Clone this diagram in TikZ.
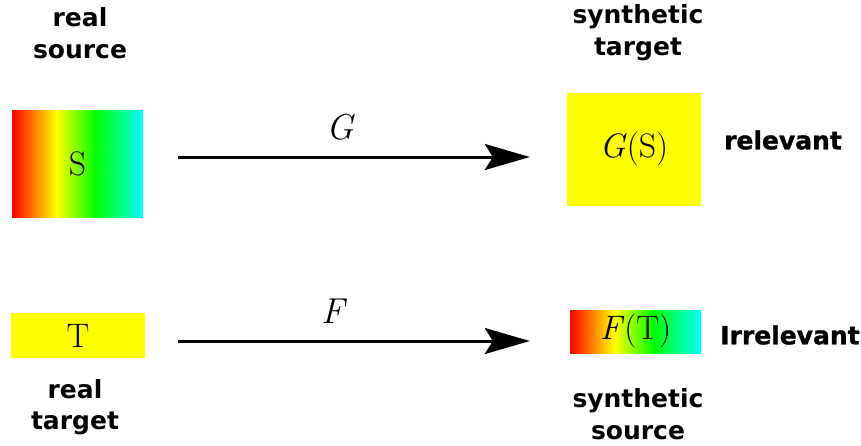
\documentclass[tikz,border=0pt]{standalone}
\usepackage{xcolor}
\usepackage{amsmath}
\usepackage{fontspec}
\usepackage{tikz}
\usetikzlibrary{arrows.meta, positioning}

\newfontfamily\capfont{DejaVu Sans}
\newfontfamily\tagfont[FakeBold=1.2]{DejaVu Sans Bold}

\definecolor{fullred}{RGB}{255,0,0}
\definecolor{fullyellow}{RGB}{255,255,0}
\definecolor{fullgreen}{RGB}{0,255,0}
\definecolor{fullcyan}{RGB}{0,255,255}

\pgfdeclarehorizontalshading{spectrum}{100bp}{%
  color(0bp)=(fullred); color(25bp)=(fullred); color(42bp)=(fullyellow);
  color(57bp)=(fullgreen); color(75bp)=(fullcyan); color(100bp)=(fullcyan)}

% italic letters from the text font, so they scale freely
\newcommand{\mapname}[1]{\textit{#1\/}}

\begin{document}
\begin{tikzpicture}[
    x=1pt, y=-1pt,
    areabox/.style={
        rectangle,
        inner sep=0pt,
        font=\fontsize{34}{36}\selectfont
    },
    plainbox/.style={areabox, fill=fullyellow},
    mixedbox/.style={areabox, shading=spectrum},
    caption/.style={
        align=center,
        font=\capfont\bfseries\fontsize{25}{31.5}\selectfont
    },
    tag/.style={font=\tagfont\fontsize{25}{30}\selectfont},
    maplabel/.style={font=\fontsize{36}{38}\selectfont},
    arrow/.style={-{Stealth[length=45pt, width=26pt, inset=8pt]}, line width=3pt}
]
\useasboundingbox (0,0) rectangle (861,445);

% domains
\node[mixedbox, minimum width=131pt, minimum height=107pt] (src) at (77.5,163.5) {S};
\node[plainbox, minimum width=134pt, minimum height=113pt] (gsrc) at (634,149.5) {\mapname{G}(S)};
\node[plainbox, minimum width=134pt, minimum height=45pt] (tgt) at (78,335.5) {T};
\node[mixedbox, minimum width=131pt, minimum height=43pt] (ftgt) at (635.5,331.5) {\mapname{F}(T)};

% captions
\node[caption] (realsrc) at (80,33) {real\\source};
\node[caption] (synthtgt) at (638,32.5) {synthetic\\target};
\node[caption] (realtgt) at (75,407) {real\\target};
\node[caption] (synthsrc) at (638,414) {synthetic\\source};
\node[tag] (rel) at (783,140) {relevant};
\node[tag] (irrel) at (790,335) {Irrelevant};

% mappings
\coordinate (gline) at (0,157);
\coordinate (fline) at (0,341);
\node[maplabel] (glab) at (340.5,127) {\mapname{G}};
\node[maplabel] (flab) at (334.5,311) {\mapname{F}};

\draw[arrow, shorten <=35pt, shorten >=37pt] (src.east |- gline) -- (gsrc.west |- gline);
\draw[arrow, shorten <=33pt, shorten >=40pt] (tgt.east |- fline) -- (ftgt.west |- fline);

\end{tikzpicture}
\end{document}
